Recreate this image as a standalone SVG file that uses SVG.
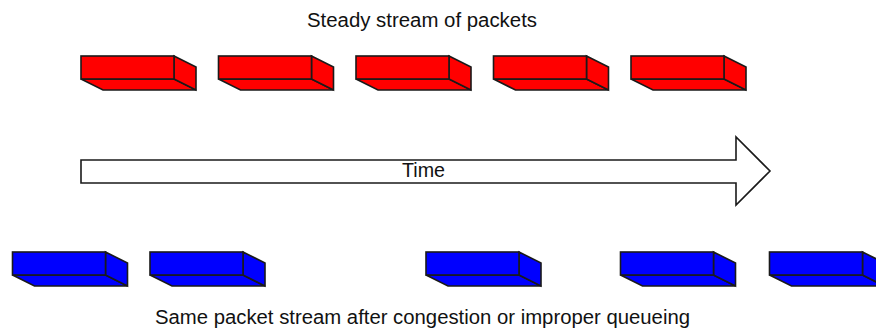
<svg xmlns="http://www.w3.org/2000/svg" xmlns:xlink="http://www.w3.org/1999/xlink" width="876" height="331" viewBox="0 0 876 331">
<style>
.lbl{font-family:"Liberation Sans",Arial,sans-serif;font-size:20px;fill:#111}
.edge{stroke:#1a1a1a;stroke-width:1.6;stroke-linejoin:miter}
.red{fill:#ff0000}
.blue{fill:#0000ff}
</style>
<defs>
<g id="box" class="edge">
<polygon points="0,23 93,23 115,34 22,34"/>
<polygon points="93,0 115,11 115,34 93,23"/>
<rect x="0" y="0" width="93" height="23"/>
</g>
</defs>
<rect width="876" height="331" fill="#ffffff"/>
<text class="lbl" x="307" y="27" textLength="230" lengthAdjust="spacingAndGlyphs">Steady stream of packets</text>
<g id="red1"><use xlink:href="#box" class="red" transform="translate(81,56)"/></g>
<g id="red2"><use xlink:href="#box" class="red" transform="translate(218.5,56)"/></g>
<g id="red3"><use xlink:href="#box" class="red" transform="translate(356,56)"/></g>
<g id="red4"><use xlink:href="#box" class="red" transform="translate(493.5,56)"/></g>
<g id="red5"><use xlink:href="#box" class="red" transform="translate(631,56)"/></g>
<g id="time-arrow">
<polygon class="edge" fill="#ffffff" points="81,160 736,160 736,137 770,171 736,205 736,183 81,183"/>
<text class="lbl" x="402" y="177" textLength="43" lengthAdjust="spacingAndGlyphs">Time</text>
</g>
<g id="blue1"><use xlink:href="#box" class="blue" transform="translate(12.5,252)"/></g>
<g id="blue2"><use xlink:href="#box" class="blue" transform="translate(150,252)"/></g>
<g id="blue3"><use xlink:href="#box" class="blue" transform="translate(426,252)"/></g>
<g id="blue4"><use xlink:href="#box" class="blue" transform="translate(620.5,252)"/></g>
<g id="blue5"><use xlink:href="#box" class="blue" transform="translate(769.5,252)"/></g>
<text class="lbl" x="155" y="324" textLength="535" lengthAdjust="spacingAndGlyphs">Same packet stream after congestion or improper queueing</text>
<g id="connectors"/>
</svg>
